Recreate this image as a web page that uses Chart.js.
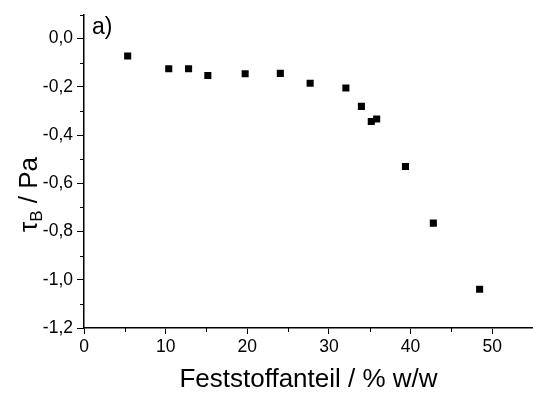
<!DOCTYPE html>
<html>
<head>
<meta charset="utf-8">
<script src="https://cdn.jsdelivr.net/npm/chart.js@4"></script>
<style>
  html, body { margin: 0; padding: 0; background: #fff; overflow: hidden; }
  #wrap { width: 538px; height: 394px; position: relative; }
</style>
</head>
<body>
<div id="wrap"><canvas id="c"></canvas></div>
<script>
// Data
const feststoffanteil = [5.35, 10.38, 12.81, 15.17, 19.74, 24.05, 27.70, 32.08, 33.98, 35.19, 35.85, 39.38, 42.79, 48.46];
const tauB = [-0.072, -0.125, -0.125, -0.153, -0.146, -0.144, -0.185, -0.205, -0.281, -0.344, -0.333, -0.530, -0.765, -1.039];

// Axis ticks
const xMajorTicks = [0, 10, 20, 30, 40, 50];
const xMinorTicks = [5, 15, 25, 35, 45, 55];
const yMajorTicks = [-1.2, -1.0, -0.8, -0.6, -0.4, -0.2, 0.0];
const yMinorTicks = [-1.1, -0.9, -0.7, -0.5, -0.3, -0.1, 0.1];

const xTitle = 'Feststoffanteil / % w/w';
const yTitleMain = 'τ';
const yTitleSub = 'B';
const yTitleRest = ' / Pa';
const panelLabel = 'a)';

const FONT = "'Liberation Sans', Arial, sans-serif";

const points = feststoffanteil.map((x, i) => ({ x: x, y: tauB[i] }));

const extrasPlugin = {
  id: 'extras',
  afterDraw(chart) {
    const ctx = chart.ctx;
    const xs = chart.scales.x, ys = chart.scales.y;
    const area = chart.chartArea;
    ctx.save();
    // minor ticks
    ctx.strokeStyle = '#000';
    ctx.lineWidth = 1;
    ctx.beginPath();
    xMinorTicks.forEach(v => {
      const px = Math.round(xs.getPixelForValue(v)) + 0.5;
      ctx.moveTo(px, area.bottom);
      ctx.lineTo(px, area.bottom + 4);
    });
    yMinorTicks.forEach(v => {
      const py = Math.round(ys.getPixelForValue(v)) + 0.5;
      ctx.moveTo(area.left - 4, py);
      ctx.lineTo(area.left, py);
    });
    ctx.stroke();
    // panel label
    ctx.fillStyle = '#000';
    ctx.font = '23px ' + FONT;
    ctx.textBaseline = 'alphabetic';
    ctx.textAlign = 'left';
    ctx.fillText(panelLabel, area.left + 8, 33.5);
    // y title with subscript
    ctx.translate(37, 232);
    ctx.rotate(-Math.PI / 2);
    ctx.font = '26px ' + FONT;
    ctx.fillText(yTitleMain, 0, 0);
    let w = ctx.measureText(yTitleMain).width;
    ctx.font = '17px ' + FONT;
    ctx.fillText(yTitleSub, w, 5);
    w += ctx.measureText(yTitleSub).width;
    ctx.font = '26px ' + FONT;
    ctx.fillText(yTitleRest, w, 0);
    ctx.restore();
  }
};

new Chart(document.getElementById('c'), {
  type: 'scatter',
  data: {
    datasets: [{
      data: points,
      backgroundColor: '#000',
      borderColor: '#000',
      borderWidth: 0,
      pointStyle: 'rect',
      pointRadius: 5,
      pointHoverRadius: 5
    }]
  },
  options: {
    responsive: true,
    maintainAspectRatio: false,
    animation: false,
    events: [],
    layout: { padding: { top: 10, right: 2, left: 0, bottom: 0 } },
    plugins: { legend: { display: false }, tooltip: { enabled: false } },
    scales: {
      x: {
        type: 'linear',
        min: 0,
        max: 55,
        afterBuildTicks: s => { s.ticks = xMajorTicks.map(v => ({ value: v })); },
        afterFit: s => { s.height = 66; },
        grid: { drawOnChartArea: false, drawTicks: true, tickLength: 6, color: '#000', lineWidth: 1 },
        border: { display: true, color: '#000', width: 1.5 },
        ticks: { color: '#000', font: { family: FONT, size: 17.5 }, padding: 3, maxRotation: 0 },
        title: { display: true, text: xTitle, color: '#000', font: { family: FONT, size: 26, lineHeight: 1 }, padding: { top: 0, bottom: 1 } }
      },
      y: {
        type: 'linear',
        min: -1.2,
        max: 0.1,
        afterBuildTicks: s => { s.ticks = yMajorTicks.map(v => ({ value: v })); },
        afterFit: s => { s.width = 84; },
        grid: { drawOnChartArea: false, drawTicks: true, tickLength: 7, color: '#000', lineWidth: 1 },
        border: { display: true, color: '#000', width: 1.5 },
        ticks: {
          color: '#000', font: { family: FONT, size: 17.5 }, padding: 4,
          callback: v => v.toFixed(1).replace('.', ',')
        }
      }
    }
  },
  plugins: [extrasPlugin]
});
</script>
</body>
</html>
